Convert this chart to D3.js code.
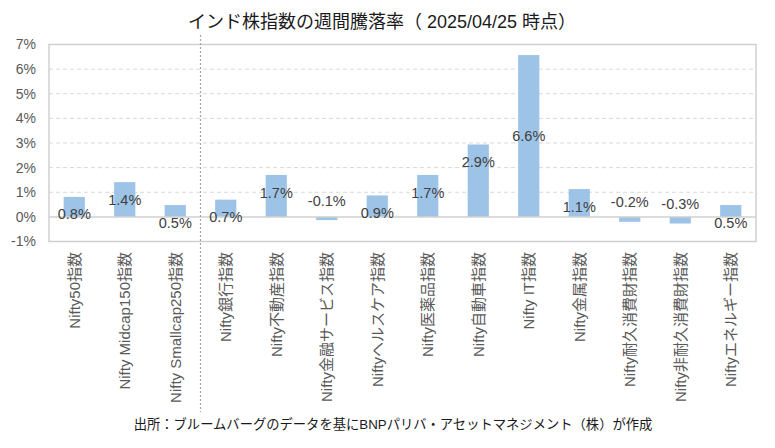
<!DOCTYPE html>
<html>
<head>
<meta charset="utf-8">
<script src="https://cdn.jsdelivr.net/npm/d3@7"></script>
<style>
  body { margin: 0; background: #fff; }
  svg text { font-family: "Liberation Sans", Arial, "Noto Sans CJK JP", sans-serif; }
</style>
</head>
<body>
<svg id="chart" width="775" height="448"></svg>
<script>
// chart data
var categories = ['Nifty50指数', 'Nifty Midcap150指数', 'Nifty Smallcap250指数',
  'Nifty銀行指数', 'Nifty不動産指数', 'Nifty金融サービス指数', 'Niftyヘルスケア指数',
  'Nifty医薬品指数', 'Nifty自動車指数', 'Nifty IT指数', 'Nifty金属指数',
  'Nifty耐久消費財指数', 'Nifty非耐久消費財指数', 'Niftyエネルギー指数'];
var weekly = [0.81, 1.41, 0.48, 0.70, 1.70, -0.13, 0.87, 1.70, 2.94, 6.57, 1.13, -0.20, -0.27, 0.48];
var yTicks = [-1, 0, 1, 2, 3, 4, 5, 6, 7];

var titleText = 'インド株指数の週間騰落率（ 2025/04/25 時点）';
var sourceText = '出所：ブルームバーグのデータを基にBNPパリバ・アセットマネジメント（株）が作成';
var centeredLabel = 'Nifty IT指数'; // this one sits mid-bar in the original

var svg = d3.select('#chart');
var plot = {left: 49, right: 756, top: 44.5, bottom: 241.5};

var x = d3.scaleBand()
  .domain(categories)
  .range([plot.left, plot.right])
  .paddingInner(0.58)
  .paddingOuter(0.29);

var y = d3.scaleLinear()
  .domain([-1, 7])
  .range([plot.bottom, plot.top]);

// dashed gridlines
svg.append('g')
  .selectAll('line')
  .data(yTicks.filter(function(d) { return d > -1 && d < 7 && d !== 0; }))
  .enter().append('line')
  .attr('x1', plot.left).attr('x2', plot.right)
  .attr('y1', function(d) { return y(d); })
  .attr('y2', function(d) { return y(d); })
  .attr('stroke', '#d9d9d9')
  .attr('stroke-width', 1)
  .attr('stroke-dasharray', '4,3');

// plot box
svg.append('rect')
  .attr('x', plot.left).attr('y', plot.top)
  .attr('width', plot.right - plot.left)
  .attr('height', plot.bottom - plot.top)
  .attr('fill', 'none')
  .attr('stroke', '#d0d0d0')
  .attr('stroke-width', 1.5);

// y axis labels
var yAxis = d3.axisLeft(y)
  .tickValues(yTicks)
  .tickSize(0)
  .tickPadding(13)
  .tickFormat(function(d) { return d + '%'; });

svg.append('g')
  .attr('transform', 'translate(' + plot.left + ',0)')
  .call(yAxis)
  .call(function(g) { g.select('.domain').remove(); })
  .selectAll('text')
  .attr('fill', '#595959')
  .style('font-size', '14px');

// bars
svg.append('g')
  .selectAll('rect')
  .data(weekly)
  .enter().append('rect')
  .attr('x', function(d, i) { return x(categories[i]); })
  .attr('width', x.bandwidth())
  .attr('y', function(d) { return y(Math.max(0, d)); })
  .attr('height', function(d) { return Math.abs(y(d) - y(0)); })
  .attr('fill', '#9dc3e6');

// zero line
svg.append('line')
  .attr('x1', plot.left).attr('x2', plot.right)
  .attr('y1', y(0)).attr('y2', y(0))
  .attr('stroke', '#d0d0d0')
  .attr('stroke-width', 1.5);

// value labels
svg.append('g')
  .selectAll('text')
  .data(weekly)
  .enter().append('text')
  .attr('x', function(d, i) { return x(categories[i]) + x.bandwidth() / 2; })
  .attr('y', function(d, i) {
    if (categories[i] === centeredLabel) return (y(d) + y(0)) / 2;
    return d >= 0 ? y(d) + 17.5 : y(d) - 19.5;
  })
  .attr('text-anchor', 'middle')
  .attr('dominant-baseline', 'central')
  .attr('fill', '#404040')
  .style('font-size', '14.5px')
  .text(function(d) { return d.toFixed(1) + '%'; });

// category labels (vertical)
svg.append('g')
  .selectAll('text')
  .data(categories)
  .enter().append('text')
  .attr('transform', function(d) {
    return 'translate(' + (x(d) + x.bandwidth() / 2) + ',252) rotate(-90)';
  })
  .attr('text-anchor', 'end')
  .attr('dominant-baseline', 'central')
  .attr('fill', '#595959')
  .style('font-size', '15px')
  .text(function(d) { return d; });

// separator between broad and sector indices
var sepX = (x(categories[2]) + x(categories[3]) + x.bandwidth()) / 2;
svg.append('line')
  .attr('x1', sepX).attr('x2', sepX)
  .attr('y1', 35).attr('y2', 412)
  .attr('stroke', '#a6a6a6')
  .attr('stroke-width', 1.2)
  .attr('stroke-dasharray', '2,2');

// title
svg.append('text')
  .attr('x', 382).attr('y', 22)
  .attr('text-anchor', 'middle')
  .attr('dominant-baseline', 'central')
  .attr('fill', '#1a1a1a')
  .style('font-size', '18px')
  .text(titleText);

// source note
svg.append('text')
  .attr('x', 393).attr('y', 424)
  .attr('text-anchor', 'middle')
  .attr('dominant-baseline', 'central')
  .attr('fill', '#1a1a1a')
  .style('font-size', '13.3px')
  .text(sourceText);
</script>
</body>
</html>
